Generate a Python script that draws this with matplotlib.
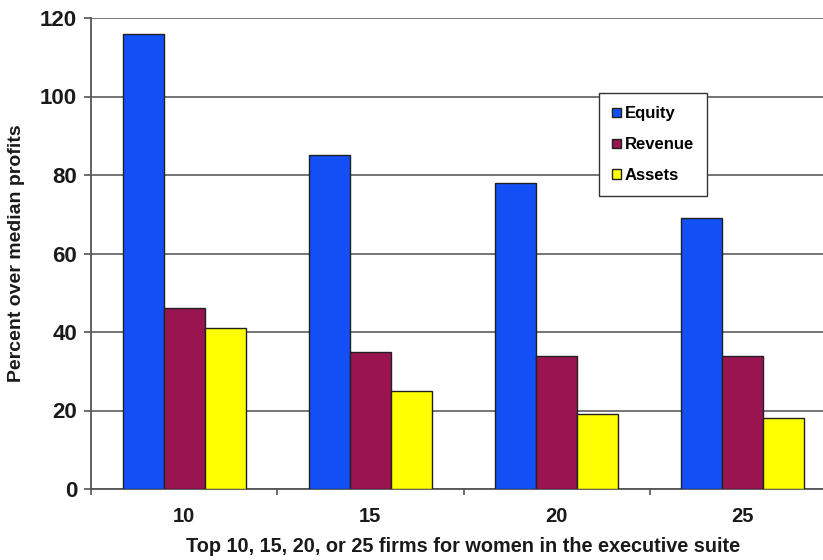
import matplotlib.pyplot as plt
import numpy as np

plt.rcParams['font.family'] = ['Liberation Sans', 'DejaVu Sans']

# Top-N firm groups and percent over median profits
groups = ['10', '15', '20', '25']
equity = [116, 85, 78, 69]
revenue = [46, 35, 34, 34]
assets = [41, 25, 19, 18]

series = {'Equity': (equity, '#1250f5'),
          'Revenue': (revenue, '#9a1450'),
          'Assets': (assets, '#ffff00')}

x = np.arange(len(groups))
bar_width = 0.22

fig = plt.figure(figsize=(8.23, 5.6), dpi=100)
# plot area runs slightly past the right edge of the figure
ax = fig.add_axes([91 / 823, 71 / 560, 745 / 823, 471 / 560])

for i, (name, (vals, col)) in enumerate(series.items()):
    ax.bar(x + (i - 1) * bar_width, vals, bar_width, color=col,
           edgecolor='#202020', linewidth=1.0, label=name, zorder=3)

ax.set_xlim(-0.5, 3.5)
ax.set_ylim(0, 120)
ax.set_yticks(range(0, 121, 20))
ax.yaxis.grid(True, color='#6a6a6a', linewidth=1.3, zorder=0)
ax.set_axisbelow(True)

ax.set_xticks(x, groups)
ax.set_xticks(np.arange(-0.5, 4, 1), minor=True)
ax.tick_params(axis='x', which='major', length=0, pad=13, labelsize=14.5)
ax.tick_params(axis='x', which='minor', length=4, width=1.2, color='#555555')
ax.tick_params(axis='y', length=5, width=1.2, color='#555555', labelsize=16, pad=5)
for lbl in ax.get_xticklabels() + ax.get_yticklabels():
    lbl.set_fontweight('bold')
    lbl.set_color('#1a1a1a')

for side in ['top', 'right']:
    ax.spines[side].set_visible(False)
for side in ['left', 'bottom']:
    ax.spines[side].set_color('#555555')
    ax.spines[side].set_linewidth(1.3)

ax.set_xlabel('Top 10, 15, 20, or 25 firms for women in the executive suite',
              fontsize=14.3, fontweight='bold', labelpad=8, color='#1a1a1a')
ax.set_ylabel('Percent over median profits', fontsize=14, fontweight='bold',
              labelpad=11, color='#1a1a1a')

leg = ax.legend(loc='upper left', bbox_to_anchor=(599 / 823, 1 - 93 / 560),
                bbox_transform=fig.transFigure, borderaxespad=0,
                fancybox=False, edgecolor='#333333', framealpha=1,
                prop={'weight': 'bold', 'size': 12},
                handlelength=0.5, handleheight=0.5, handletextpad=0.25,
                labelspacing=0.95, borderpad=0.8)
leg.get_frame().set_linewidth(1.0)

fig.savefig('out.png', dpi=100)
